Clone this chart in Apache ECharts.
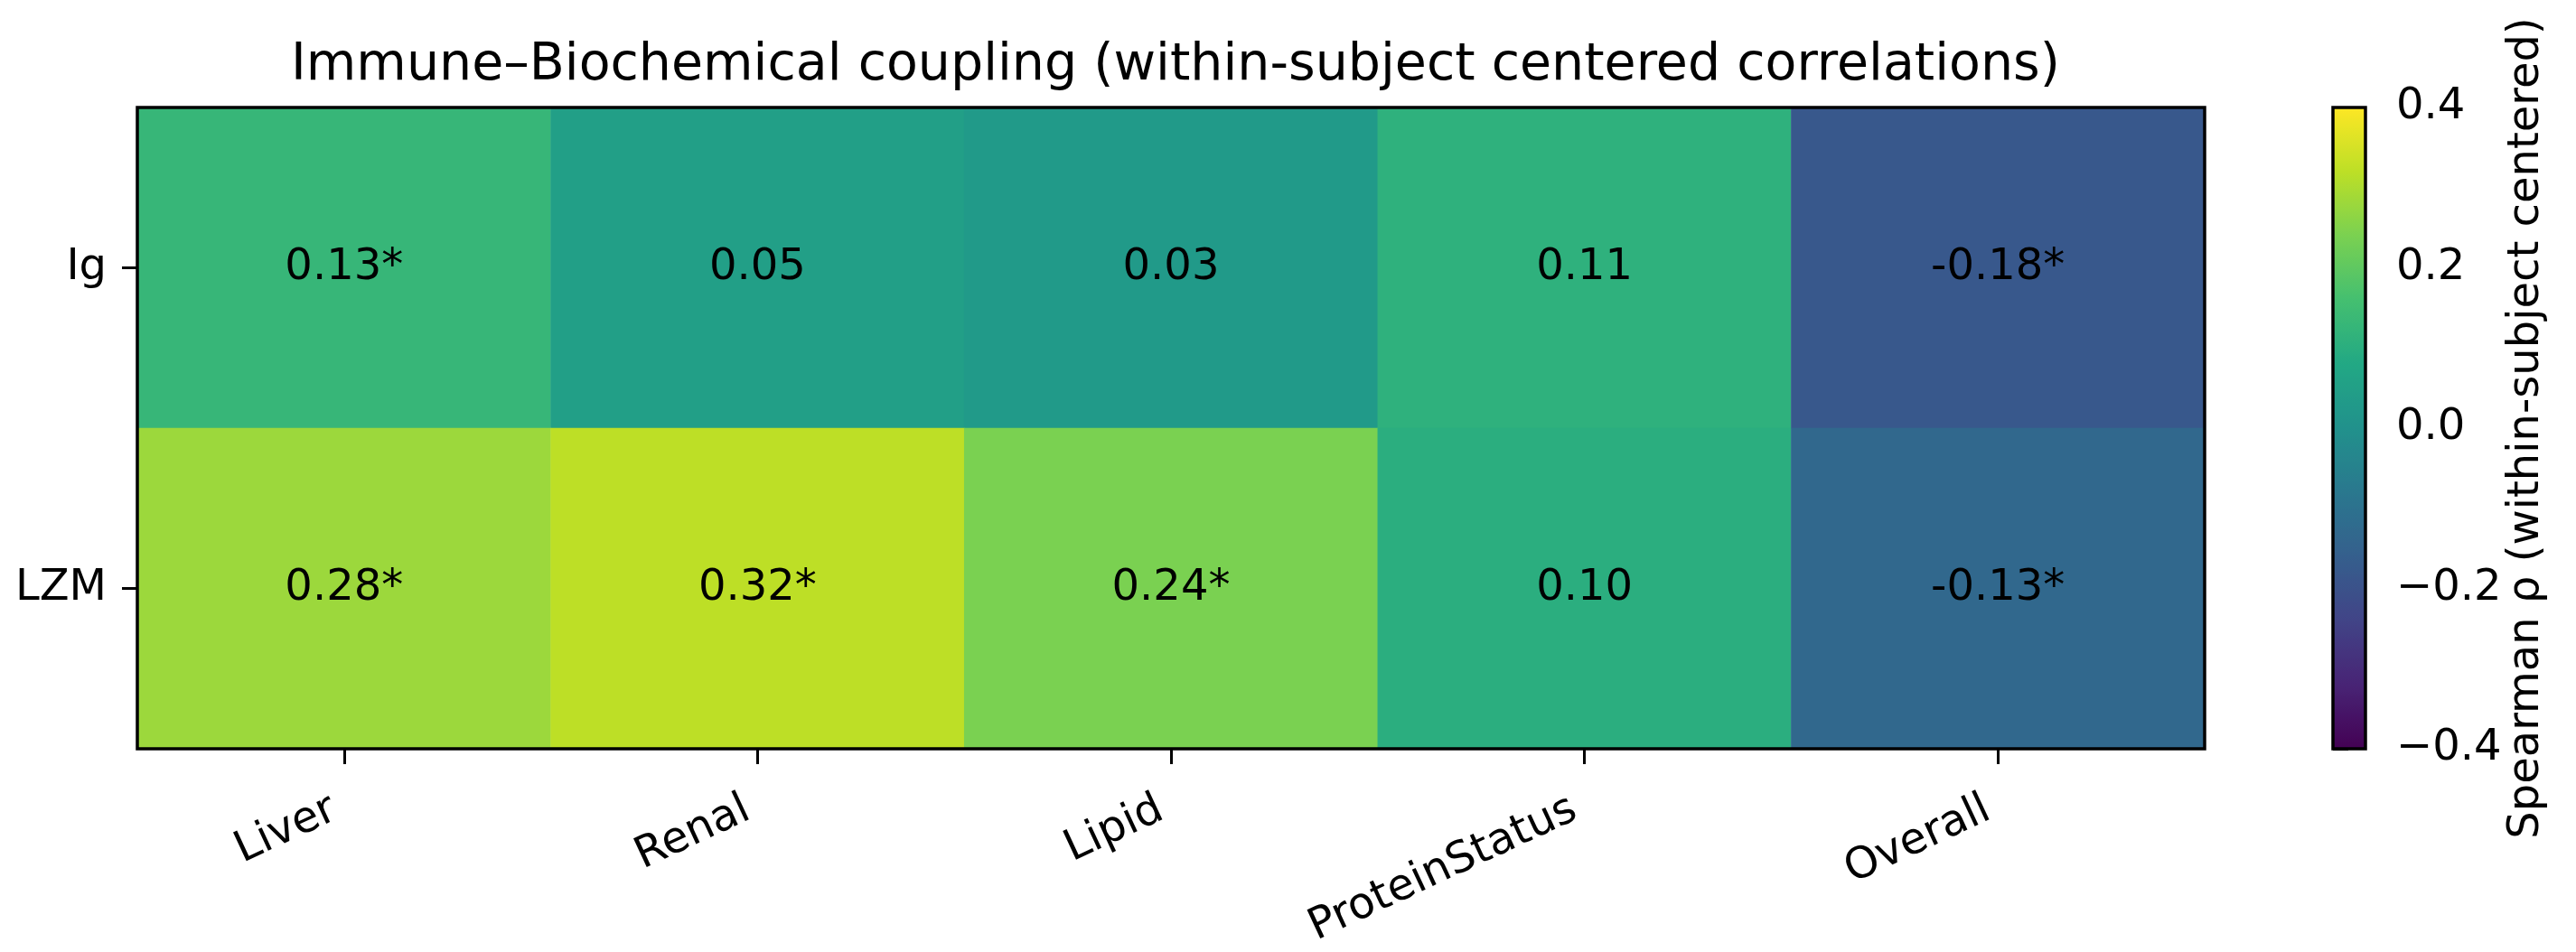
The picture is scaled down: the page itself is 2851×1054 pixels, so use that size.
<!DOCTYPE html>
<html>
<head>
<meta charset="utf-8">
<script src="https://cdn.jsdelivr.net/npm/echarts@6/dist/echarts.min.js"></script>
<style>
  html, body { margin: 0; padding: 0; background: #fff; }
  #main { width: 2851px; height: 1054px; }
</style>
</head>
<body>
<div id="main"></div>
<script>
// rows / columns of the heatmap
var rowNames = ['Ig', 'LZM'];
var colNames = ['Liver', 'Renal', 'Lipid', 'ProteinStatus', 'Overall'];

// spearman rho per row
var igRho = [0.13, 0.05, 0.03, 0.11, -0.18];
var lzmRho = [0.28, 0.32, 0.24, 0.10, -0.13];

// significance stars
var igSig = [true, false, false, false, true];
var lzmSig = [true, true, true, false, true];

// colorbar ticks
var cbarTicks = [-0.4, -0.2, 0.0, 0.2, 0.4];

// viridis stops
var viridis = ['#440154', '#482475', '#414487', '#355f8d', '#2a788e', '#21918c',
  '#22a884', '#44bf70', '#7ad151', '#bddf26', '#fde725'];

var FONT = 'DejaVu Sans';

var cells = [];
var rowVals = [igRho, lzmRho];
var rowSig = [igSig, lzmSig];
for (var r = 0; r < rowNames.length; r++) {
  for (var c = 0; c < colNames.length; c++) {
    cells.push({
      value: [c, r, rowVals[r][c]],
      sig: rowSig[r][c]
    });
  }
}

var chart = echarts.init(document.getElementById('main'));

var option = {
  animation: false,
  backgroundColor: '#fff',
  title: {
    text: 'Immune\u2013Biochemical coupling (within-subject centered correlations)',
    left: 1296,
    top: 40,
    textAlign: 'center',
    textStyle: { fontFamily: FONT, fontSize: 57, fontWeight: 'normal', color: '#000' }
  },
  grid: [
    {
      left: 152, top: 119, width: 2288, height: 710,
      show: true, z: 5, borderColor: '#000', borderWidth: 3.5,
      backgroundColor: 'transparent'
    },
    {
      left: 2582, top: 119, width: 36, height: 710,
      show: true, z: 10, borderColor: '#000', borderWidth: 3.5,
      backgroundColor: 'transparent'
    }
  ],
  xAxis: [
    {
      type: 'category', gridIndex: 0, data: colNames,
      axisLine: { show: false },
      axisTick: { show: true, alignWithLabel: true, length: 17, lineStyle: { color: '#000', width: 3 } },
      axisLabel: {
        rotate: 25, margin: 60, padding: [0, 12, 0, 0],
        fontFamily: FONT, fontSize: 48, color: '#000'
      },
      splitLine: { show: false }
    },
    {
      type: 'value', gridIndex: 1, show: false, min: 0, max: 1
    }
  ],
  yAxis: [
    {
      type: 'category', gridIndex: 0, data: rowNames, inverse: true,
      axisLine: { show: false },
      axisTick: { show: true, alignWithLabel: true, length: 17, lineStyle: { color: '#000', width: 3 } },
      axisLabel: { margin: 34, fontFamily: FONT, fontSize: 48, color: '#000' },
      splitLine: { show: false }
    },
    {
      type: 'value', gridIndex: 1, position: 'right',
      min: -0.4, max: 0.4, interval: 0.2,
      axisLine: { show: false },
      axisTick: { show: true, length: 17, lineStyle: { color: '#000', width: 3 } },
      axisLabel: {
        margin: 34, fontFamily: FONT, fontSize: 48, color: '#000',
        formatter: function (v) {
          var t = cbarTicks.reduce(function (a, b) { return Math.abs(b - v) < Math.abs(a - v) ? b : a; });
          return t.toFixed(1).replace('-', '\u2212');
        }
      },
      splitLine: { show: false },
      name: 'Spearman \u03c1 (within-subject centered)',
      nameLocation: 'middle',
      nameGap: 140,
      nameTextStyle: { fontFamily: FONT, fontSize: 48, color: '#000' }
    }
  ],
  visualMap: {
    type: 'continuous',
    min: -0.4, max: 0.4,
    seriesIndex: 0,
    orient: 'vertical',
    left: 2582, top: 119,
    itemWidth: 36, itemHeight: 710,
    padding: 0,
    calculable: false,
    hoverLink: false,
    inRange: { color: viridis }
  },
  series: [
    {
      type: 'heatmap',
      xAxisIndex: 0, yAxisIndex: 0,
      data: cells,
      itemStyle: { borderWidth: 0 },
      label: {
        show: true,
        fontFamily: FONT, fontSize: 48, color: '#000',
        formatter: function (p) {
          return p.value[2].toFixed(2) + (p.data.sig ? '*' : '');
        }
      },
      emphasis: { disabled: true }
    }
  ]
};

chart.setOption(option);
</script>
</body>
</html>
